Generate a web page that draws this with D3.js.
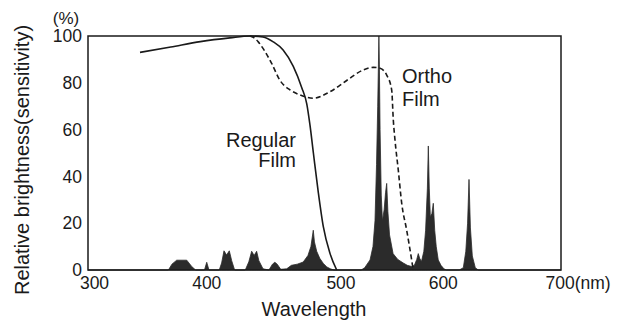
<!DOCTYPE html>
<html>
<head>
<meta charset="utf-8">
<script src="https://cdn.jsdelivr.net/npm/d3@7"></script>
<style>
  body { margin: 0; background: #fff; }
  svg text { font-family: "Liberation Sans", Arial, sans-serif; fill: #1a1a1a; }
</style>
</head>
<body>
<div id="chart"></div>
<script>
// lamp emission spectrum (wavelength nm, relative brightness %)
const specWl = [300, 368, 371, 375, 383.5, 387.7, 391, 398.5, 400.4, 402.3, 411, 413, 415, 417.2, 419.5, 421.5, 424,
  433, 436, 438.4, 440.5, 442.6, 444.5, 448, 453, 456, 458, 460, 463, 468, 472, 477, 482, 486, 488.5, 490.5, 491.5,
  493.4, 496, 499, 502, 505, 508, 531, 534, 538.5, 541, 542.7, 544, 545, 545.6, 546, 546.4, 547, 548, 549, 550.5,
  551.6, 552.6, 553.6, 555, 558, 562, 566.6, 570, 573.7, 576, 578, 579.3, 580.5, 582, 584, 585.5, 587, 587.8, 588.6,
  589.5, 590.8, 592, 593.2, 594.5, 596.2, 598.5, 601, 603, 614, 617.4, 619.5, 621, 622.2, 623.4, 625, 627.5, 630, 700];
const specVal = [0, 0, 2.5, 4.2, 4.2, 1.5, 0, 0, 3.3, 0, 0, 3, 8.2, 6.4, 8.2, 4, 0,
  0, 3.5, 8, 6.2, 8, 4, 0.5, 0, 2.5, 3.3, 2.5, 0.3, 0.5, 2, 2.5, 3.4, 6.2, 10, 17, 12,
  8, 5, 2.8, 1.3, 0.5, 0, 0, 1, 4.3, 10, 21, 45, 70, 88, 100, 88, 60, 32, 21, 26,
  33, 37, 25, 15, 7, 4.5, 3, 2, 1.5, 2, 4.5, 7, 5, 3.6, 8, 17, 35, 53, 35,
  22.8, 24, 28.5, 17, 10, 4.3, 2, 0.5, 0, 0, 1, 8, 20, 38.7, 18, 6, 1, 0, 0];

// regular film sensitivity (solid)
const regWl  = [344, 370, 395, 420, 437, 448, 456.7, 465, 473.6, 480.7, 485, 487.7, 490.6, 494.8, 499, 504.7, 510.3];
const regVal = [93, 95.3, 97.6, 99.2, 100, 99.6, 97.5, 94, 87, 78, 71, 62, 50, 33, 18.5, 7, 0];

// ortho film sensitivity (dashed), same as regular below 437nm
const orthoWl  = [437, 439.8, 444, 448, 455.3, 462.4, 470.8, 479.3, 490.6, 504.7, 518.8, 532.8, 541.3, 547, 552.6,
  556.8, 558.2, 559.6, 562.4, 565.3, 569.5, 573.7, 575];
const orthoVal = [100, 99.4, 97.5, 94.7, 88.3, 81, 77, 74.8, 73.4, 76.2, 81, 85.5, 86.6, 86.2, 83.3,
  77, 64, 55.6, 42.7, 28.5, 17, 4.3, 0];

const xTicks = [300, 400, 500, 600, 700];
const yTicks = [0, 20, 40, 60, 80, 100];

const width = 626, height = 322;
const plotL = 88, plotR = 561, plotT = 36, plotB = 270;
const ink = "#1a1a1a";

const svg = d3.select("#chart").append("svg")
  .attr("width", width)
  .attr("height", height);

const x = d3.scaleLinear().domain([300, 700]).range([plotL, plotR]);
const y = d3.scaleLinear().domain([0, 100]).range([plotB, plotT]);

const zip = (a, b) => a.map((d, i) => [d, b[i]]);

// spectrum fill
svg.append("path")
  .datum(zip(specWl, specVal))
  .attr("fill", "#2b2b2b")
  .attr("stroke", "#2b2b2b")
  .attr("stroke-width", 0.8)
  .attr("d", d3.area().x(d => x(d[0])).y0(y(0)).y1(d => y(d[1])));

const line = d3.line().x(d => x(d[0])).y(d => y(d[1])).curve(d3.curveMonotoneX);

svg.append("path")
  .datum(zip(regWl, regVal))
  .attr("fill", "none")
  .attr("stroke", ink)
  .attr("stroke-width", 1.6)
  .attr("d", line);

svg.append("path")
  .datum(zip(orthoWl, orthoVal))
  .attr("fill", "none")
  .attr("stroke", ink)
  .attr("stroke-width", 1.6)
  .attr("stroke-dasharray", "5,3")
  .attr("d", line);

// frame
svg.append("rect")
  .attr("x", plotL).attr("y", plotT)
  .attr("width", plotR - plotL).attr("height", plotB - plotT)
  .attr("fill", "none")
  .attr("stroke", ink)
  .attr("stroke-width", 1.5);

// axes
const xAxis = svg.append("g")
  .attr("transform", "translate(0," + plotB + ")")
  .call(d3.axisBottom(x).tickValues(xTicks).tickSize(0).tickPadding(7)
    .tickFormat(d => d === 700 ? "700(nm)" : d));
xAxis.select(".domain").remove();
xAxis.selectAll("text")
  .style("font-size", "17.5px")
  .attr("fill", ink);
xAxis.selectAll(".tick").filter(d => d === 700).select("text")
  .attr("text-anchor", "start").attr("x", -16);
xAxis.selectAll(".tick").filter(d => d === 500).select("text").attr("x", 16);
xAxis.selectAll(".tick").filter(d => d === 300).select("text").attr("x", 6);

const yAxis = svg.append("g")
  .attr("transform", "translate(" + plotL + ",0)")
  .call(d3.axisLeft(y).tickValues(yTicks).tickSize(0).tickPadding(6));
yAxis.select(".domain").remove();
yAxis.selectAll("text")
  .style("font-size", "17.5px")
  .attr("fill", ink);

// titles
svg.append("text")
  .attr("x", 66).attr("y", 24)
  .attr("text-anchor", "middle")
  .style("font-size", "17px")
  .text("(%)");

svg.append("text")
  .attr("transform", "translate(29,160) rotate(-90)")
  .attr("text-anchor", "middle")
  .style("font-size", "20px")
  .text("Relative brightness(sensitivity)");

svg.append("text")
  .attr("x", 314).attr("y", 316)
  .attr("text-anchor", "middle")
  .style("font-size", "20px")
  .text("Wavelength");

// series labels
const reg = svg.append("text").attr("text-anchor", "end").style("font-size", "20px");
reg.append("tspan").attr("x", 296).attr("y", 147).text("Regular");
reg.append("tspan").attr("x", 296).attr("y", 167).text("Film");

const ortho = svg.append("text").style("font-size", "20px");
ortho.append("tspan").attr("x", 402).attr("y", 83).text("Ortho");
ortho.append("tspan").attr("x", 402).attr("y", 106).text("Film");
</script>
</body>
</html>
